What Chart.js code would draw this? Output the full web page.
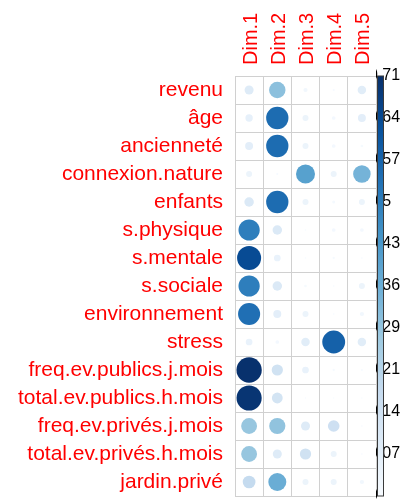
<!DOCTYPE html>
<html>
<head>
<meta charset="utf-8">
<script src="https://cdn.jsdelivr.net/npm/chart.js@4.4.1/dist/chart.umd.min.js"></script>
<style>
  html, body { margin: 0; padding: 0; background: #ffffff; }
  #wrap { width: 408px; height: 503px; }
</style>
</head>
<body>
<div id="wrap"><canvas id="c" width="408" height="503"></canvas></div>
<script>
// Dimensions (columns) and variables (rows)
const dims = ['Dim.1', 'Dim.2', 'Dim.3', 'Dim.4', 'Dim.5'];
const variables = [
  'revenu', 'âge', 'ancienneté', 'connexion.nature', 'enfants',
  's.physique', 's.mentale', 's.sociale', 'environnement', 'stress',
  'freq.ev.publics.j.mois', 'total.ev.publics.h.mois',
  'freq.ev.privés.j.mois', 'total.ev.privés.h.mois', 'jardin.privé'
];

// Quality of representation of each variable on each dimension
const dim1 = [0.09, 0.06, 0.07, 0.04, 0.10, 0.50, 0.64, 0.50, 0.54, 0.05, 0.71, 0.70, 0.28, 0.28, 0.18];
const dim2 = [0.30, 0.55, 0.55, 0.005, 0.55, 0.10, 0.05, 0.10, 0.07, 0.015, 0.14, 0.13, 0.29, 0.09, 0.36];
const dim3 = [0.02, 0.04, 0.04, 0.40, 0.04, 0.003, 0.003, 0.008, 0.04, 0.08, 0.05, 0.002, 0.09, 0.14, 0.04];
const dim4 = [0.005, 0.015, 0.015, 0.04, 0.01, 0.015, 0.006, 0.003, 0.003, 0.58, 0.006, 0.002, 0.15, 0.04, 0.04];
const dim5 = [0.08, 0.07, 0.008, 0.34, 0.04, 0.015, 0.003, 0.04, 0.02, 0.08, 0.004, 0.002, 0.003, 0.003, 0.02];
const dimValues = [dim1, dim2, dim3, dim4, dim5];

// Colour legend range and its tick labels
const legendMax = 0.714;
const legendLabels = ['0', '0.07', '0.14', '0.21', '0.29', '0.36', '0.43', '0.5', '0.57', '0.64', '0.71'];

// Sequential blue palette
const blues = ['#F7FBFF', '#DEEBF7', '#C6DBEF', '#9ECAE1', '#6BAED6', '#4292C6', '#2171B5', '#08519C', '#08306B'];

function hexToRgb(h) {
  const n = parseInt(h.slice(1), 16);
  return [(n >> 16) & 255, (n >> 8) & 255, n & 255];
}
function colorFor(v) {
  const t = Math.max(0, Math.min(1, v / legendMax)) * (blues.length - 1);
  const i = Math.min(blues.length - 2, Math.floor(t));
  const f = t - i;
  const a = hexToRgb(blues[i]), b = hexToRgb(blues[i + 1]);
  const c = a.map((x, k) => Math.round(x + (b[k] - x) * f));
  return 'rgb(' + c.join(',') + ')';
}

const points = [];
variables.forEach((name, i) => {
  dims.forEach((d, j) => {
    points.push({ x: d, y: name, v: dimValues[j][i] });
  });
});

const red = '#FF0000';
const gridColor = '#D0D0D0';
const fontFamily = '"Liberation Sans", Arial, sans-serif';

function circleRadius(ctx) {
  const v = ctx.raw ? ctx.raw.v : 0;
  const cell = ctx.chart.scales.x.width / dims.length;
  return 0.45 * cell * Math.sqrt(Math.max(0, v) / legendMax);
}

// Vertical colour bar drawn along the legend scale
const colorBar = {
  id: 'colorBar',
  afterDraw(chart) {
    const s = chart.scales.y2;
    const ctx = chart.ctx;
    const top = s.getPixelForValue(legendMax);
    const bottom = s.getPixelForValue(0);
    const x = s.left + 1.5;
    const w = 6;
    const g = ctx.createLinearGradient(0, bottom, 0, top);
    blues.forEach((c, k) => g.addColorStop(k / (blues.length - 1), c));
    ctx.save();
    ctx.fillStyle = g;
    ctx.fillRect(x, top, w, bottom - top);
    ctx.strokeStyle = '#3a3a3a';
    ctx.lineWidth = 1;
    ctx.strokeRect(x, top, w, bottom - top);
    ctx.restore();
  }
};

new Chart(document.getElementById('c'), {
  type: 'scatter',
  data: {
    datasets: [{
      data: points,
      pointRadius: circleRadius,
      pointHoverRadius: circleRadius,
      pointBackgroundColor: (ctx) => colorFor(ctx.raw ? ctx.raw.v : 0),
      pointBorderWidth: 0,
      pointHoverBorderWidth: 0
    }]
  },
  options: {
    responsive: false,
    devicePixelRatio: 1,
    animation: false,
    layout: { padding: { left: 0, right: 0, top: 0, bottom: 7 } },
    plugins: { legend: { display: false }, tooltip: { enabled: false } },
    scales: {
      x: {
        type: 'category',
        labels: dims,
        position: 'top',
        offset: true,
        grid: { offset: true, color: gridColor, drawTicks: false, tickLength: 0 },
        border: { display: true, color: gridColor },
        ticks: {
          color: red,
          font: { family: fontFamily, size: 20 },
          minRotation: 90,
          maxRotation: 90,
          padding: 11,
          labelOffset: 26,
          autoSkip: false
        },
        afterFit: (s) => { s.height = 76; s.paddingLeft = 0; s.paddingRight = 0; }
      },
      y: {
        type: 'category',
        labels: variables,
        position: 'left',
        offset: true,
        grid: { offset: true, color: gridColor, drawTicks: false, tickLength: 0 },
        border: { display: true, color: gridColor },
        ticks: {
          color: red,
          font: { family: fontFamily, size: 21 },
          padding: 12,
          autoSkip: false
        },
        afterFit: (s) => { s.width = 235; s.paddingTop = 0; s.paddingBottom = 0; }
      },
      y2: {
        type: 'linear',
        position: 'right',
        min: 0,
        max: legendMax,
        grid: { display: false, drawTicks: false, tickLength: 0 },
        border: { display: false },
        ticks: {
          color: '#000000',
          font: { family: fontFamily, size: 16 },
          padding: -7,
          autoSkip: false,
          callback: (value, index) => legendLabels[index]
        },
        afterBuildTicks: (s) => {
          s.ticks = legendLabels.map((_, i) => ({ value: i * legendMax / (legendLabels.length - 1) }));
        },
        afterFit: (s) => { s.width = 32; s.paddingTop = 0; s.paddingBottom = 0; }
      }
    }
  },
  plugins: [colorBar]
});
</script>
</body>
</html>
